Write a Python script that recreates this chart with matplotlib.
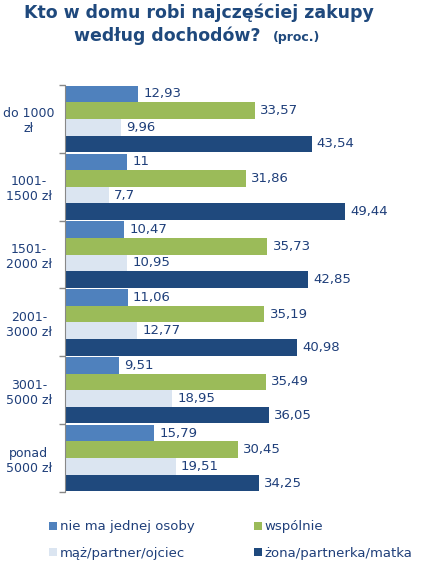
import numpy as np
import matplotlib.pyplot as plt
from matplotlib.patches import Patch

# ==========================================
# Data
# ==========================================
categories = ["do 1000\nzł", "1001-\n1500 zł", "1501-\n2000 zł",
              "2001-\n3000 zł", "3001-\n5000 zł", "ponad\n5000 zł"]
series_names = ["nie ma jednej osoby", "wspólnie",
                "mąż/partner/ojciec", "żona/partnerka/matka"]
nie_ma = [12.93, 11, 10.47, 11.06, 9.51, 15.79]
wspolnie = [33.57, 31.86, 35.73, 35.19, 35.49, 30.45]
maz = [9.96, 7.7, 10.95, 12.77, 18.95, 19.51]
zona = [43.54, 49.44, 42.85, 40.98, 36.05, 34.25]

colors = ["#4F81BD", "#9BBB59", "#DBE5F1", "#1F497D"]
TXT = "#1F3F7A"
TITLE = "#1F497D"

W, H = 423, 568
fig = plt.figure(figsize=(W / 100, H / 100), dpi=100)
ax = fig.add_axes([65 / W, 1 - 492 / H, 340 / W, 407 / H])

values = [nie_ma, wspolnie, maz, zona]
n = len(categories)
bar_h = 0.245
y0 = np.arange(n)

for s, vals in enumerate(values):
    ypos = y0 - 0.5 + 0.01 + bar_h * (s + 0.5)
    ax.barh(ypos, vals, height=bar_h, color=colors[s], linewidth=0)
    for y, v in zip(ypos, vals):
        lbl = f"{v:.2f}".rstrip("0").rstrip(".").replace(".", ",")
        ax.text(v + 0.9, y, lbl, va="center", ha="left", fontsize=9.5, color=TXT)

ax.set_xlim(0, 60)
ax.set_ylim(n - 0.5, -0.5)

# group boundary ticks and centered labels
ax.set_yticks(np.arange(n + 1) - 0.5)
ax.set_yticklabels([])
ax.set_yticks(y0, minor=True)
ax.set_yticklabels(categories, minor=True, fontsize=9, color=TXT, ha="center")
ax.tick_params(axis="y", which="major", length=4, color="#888888", width=1)
ax.tick_params(axis="y", which="minor", length=0, pad=26)
for lab in ax.get_yticklabels(minor=True):
    lab.set_multialignment("center")

ax.set_xticks([])
for side in ["top", "right", "bottom"]:
    ax.spines[side].set_visible(False)
ax.spines["left"].set_color("#888888")

# title
fig.text(0.47, 1 - 13 / H, "Kto w domu robi najczęściej zakupy",
         ha="center", va="center", fontsize=12.5, fontweight="bold", color=TITLE)
fig.text(0.395, 1 - 36 / H, "według dochodów?", ha="center", va="center",
         fontsize=12.5, fontweight="bold", color=TITLE)
fig.text(0.70, 1 - 37 / H, "(proc.)", ha="center", va="center",
         fontsize=9, fontweight="bold", color=TITLE)

# legend
handles = [Patch(facecolor=colors[i], edgecolor="none") for i in [0, 2, 1, 3]]
labels = [series_names[i] for i in [0, 2, 1, 3]]
leg = fig.legend(handles, labels, ncol=2, loc="center",
                 bbox_to_anchor=(0.545, 1 - 540 / H), frameon=False,
                 fontsize=9.5, handlelength=0.6, handleheight=0.6,
                 handletextpad=0.2, columnspacing=4.5, labelspacing=1.0)
for t in leg.get_texts():
    t.set_color(TXT)

fig.savefig("out.png", dpi=100)
